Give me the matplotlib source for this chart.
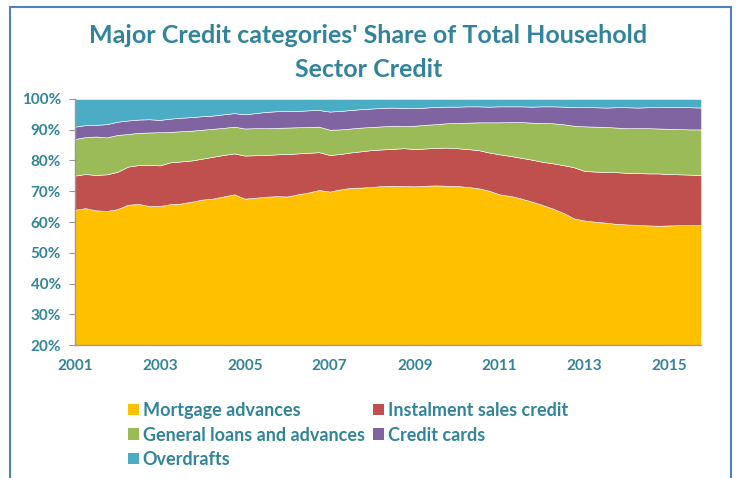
import numpy as np
import pandas as pd
import matplotlib
matplotlib.use("Agg")
import matplotlib.pyplot as plt
from matplotlib.patches import Rectangle
from matplotlib.ticker import FuncFormatter

# quarterly shares (%) of total household sector credit
dates = pd.date_range("2001-01-01", periods=60, freq="QS")

mortgage = [64.0, 64.5, 63.8, 63.6, 64.2, 65.6, 65.9, 65.2, 65.2, 65.8, 66.0, 66.6,
            67.3, 67.6, 68.3, 69.0, 67.6, 67.9, 68.2, 68.4, 68.3, 69.0, 69.6, 70.4,
            69.9, 70.6, 71.1, 71.2, 71.4, 71.7, 71.8, 71.7, 71.6, 71.8, 71.9, 71.8,
            71.7, 71.4, 71.0, 70.2, 69.0, 68.5, 67.7, 66.7, 65.6, 64.4, 63.0, 61.2,
            60.5, 60.1, 59.8, 59.4, 59.2, 59.1, 58.9, 58.8, 58.9, 59.0, 59.0, 59.0]
instalment = [11.1, 11.1, 11.5, 11.9, 12.1, 12.4, 12.6, 13.4, 13.2, 13.6, 13.7, 13.4,
              13.3, 13.6, 13.5, 13.3, 14.0, 13.8, 13.6, 13.6, 13.8, 13.3, 12.9, 12.3,
              11.9, 11.5, 11.5, 11.8, 12.0, 11.9, 12.0, 12.3, 12.1, 12.1, 12.2, 12.4,
              12.3, 12.3, 12.4, 12.4, 13.0, 13.0, 13.2, 13.6, 14.0, 14.7, 15.5, 16.6,
              16.1, 16.3, 16.5, 16.8, 16.8, 16.8, 16.9, 17.0, 16.7, 16.5, 16.4, 16.3]
general_loans = [11.9, 12.0, 12.5, 12.0, 12.0, 10.6, 10.5, 10.5, 10.8, 9.9, 9.8, 9.7,
                 9.4, 9.1, 8.8, 8.7, 8.8, 8.8, 8.7, 8.6, 8.6, 8.5, 8.4, 8.3,
                 8.2, 8.0, 7.8, 7.7, 7.5, 7.5, 7.5, 7.2, 7.6, 7.7, 7.7, 7.9,
                 8.2, 8.6, 9.0, 9.8, 10.4, 11.0, 11.6, 12.0, 12.6, 13.0, 13.3, 13.5,
                 14.5, 14.6, 14.6, 14.5, 14.5, 14.6, 14.7, 14.6, 14.7, 14.7, 14.7, 14.8]
credit_cards = [4.0, 3.9, 3.8, 4.3, 4.3, 4.4, 4.3, 4.3, 4.0, 4.3, 4.4, 4.4,
                4.4, 4.3, 4.4, 4.4, 4.6, 4.9, 5.3, 5.4, 5.4, 5.3, 5.4, 5.4,
                5.9, 6.0, 6.0, 6.0, 6.0, 6.0, 5.9, 5.9, 5.7, 5.6, 5.6, 5.4,
                5.3, 5.3, 5.2, 5.1, 5.2, 5.1, 5.1, 5.2, 5.4, 5.5, 5.7, 6.1,
                6.2, 6.3, 6.3, 6.6, 6.8, 6.7, 6.8, 6.9, 7.1, 7.2, 7.2, 7.1]
overdrafts = [9.0, 8.5, 8.4, 8.2, 7.4, 7.0, 6.7, 6.6, 6.8, 6.4, 6.1, 5.9,
              5.6, 5.4, 5.0, 4.6, 5.0, 4.6, 4.2, 4.0, 3.9, 3.9, 3.7, 3.6,
              4.1, 3.9, 3.6, 3.3, 3.1, 2.9, 2.8, 2.9, 3.0, 2.8, 2.6, 2.5,
              2.5, 2.4, 2.4, 2.5, 2.4, 2.4, 2.4, 2.5, 2.4, 2.4, 2.5, 2.6,
              2.7, 2.7, 2.8, 2.7, 2.7, 2.8, 2.7, 2.7, 2.6, 2.6, 2.7, 2.8]

labels = ["Mortgage advances", "Instalment sales credit", "General loans and advances",
          "Credit cards", "Overdrafts"]
colors = ["#FFC000", "#C0504D", "#9BBB59", "#8064A2", "#4BACC6"]
year_ticks = [2001, 2003, 2005, 2007, 2009, 2011, 2013, 2015]

txt = "#31849B"
plt.rcParams["font.family"] = ["Lato", "DejaVu Sans"]

fig = plt.figure(figsize=(7.38, 4.78), dpi=100)
ax = fig.add_axes([0.1016, 0.278, 0.8484, 0.515])

polys = ax.stackplot(dates, mortgage, instalment, general_loans, credit_cards, overdrafts,
                     labels=labels, colors=colors, edgecolor="white", linewidth=0.4)

ax.set_xlim(dates[0], dates[-1])
ax.set_ylim(20, 100)
ax.set_yticks(range(20, 101, 10))
ax.yaxis.set_major_formatter(FuncFormatter(lambda v, p: f"{v:.0f}%"))
ax.set_xticks([pd.Timestamp(f"{y}-01-01") for y in year_ticks])
ax.set_xticklabels([str(y) for y in year_ticks])

for s in ["top", "right"]:
    ax.spines[s].set_visible(False)
for s in ["left", "bottom"]:
    ax.spines[s].set_color("#9A9A9A")
    ax.spines[s].set_linewidth(1.0)
ax.tick_params(axis="y", length=4, color="#9A9A9A", labelsize=11, labelcolor=txt, pad=6)
ax.tick_params(axis="x", length=0, labelsize=11, labelcolor=txt, pad=10)
for t in ax.get_xticklabels() + ax.get_yticklabels():
    t.set_fontweight("bold")

fig.text(0.499, 0.949, "Major Credit categories' Share of Total Household\nSector Credit",
         ha="center", va="top", fontsize=18, fontweight="bold", color=txt,
         linespacing=1.55)

# legend laid out row by row like the original
order = [0, 2, 4, 1, 3]
handles = [polys[i] for i in order]
leg = fig.legend(handles, [labels[i] for i in order], ncol=2,
                 loc="upper left", bbox_to_anchor=(0.161, 0.178),
                 frameon=False, borderpad=0, handlelength=0.6, handleheight=0.6,
                 handletextpad=0.22, columnspacing=0.45, labelspacing=0.42,
                 prop={"size": 13, "weight": "bold"})
for t in leg.get_texts():
    t.set_color(txt)
for h in leg.legend_handles:
    h.set_edgecolor("none")

# outer chart frame
fig.patches.append(Rectangle((10 / 738, -0.05), 721 / 738, 1.05 - 7 / 478,
                             transform=fig.transFigure, fill=False,
                             edgecolor="#4F81BD", linewidth=1.5))

fig.savefig("out.png", dpi=100)
